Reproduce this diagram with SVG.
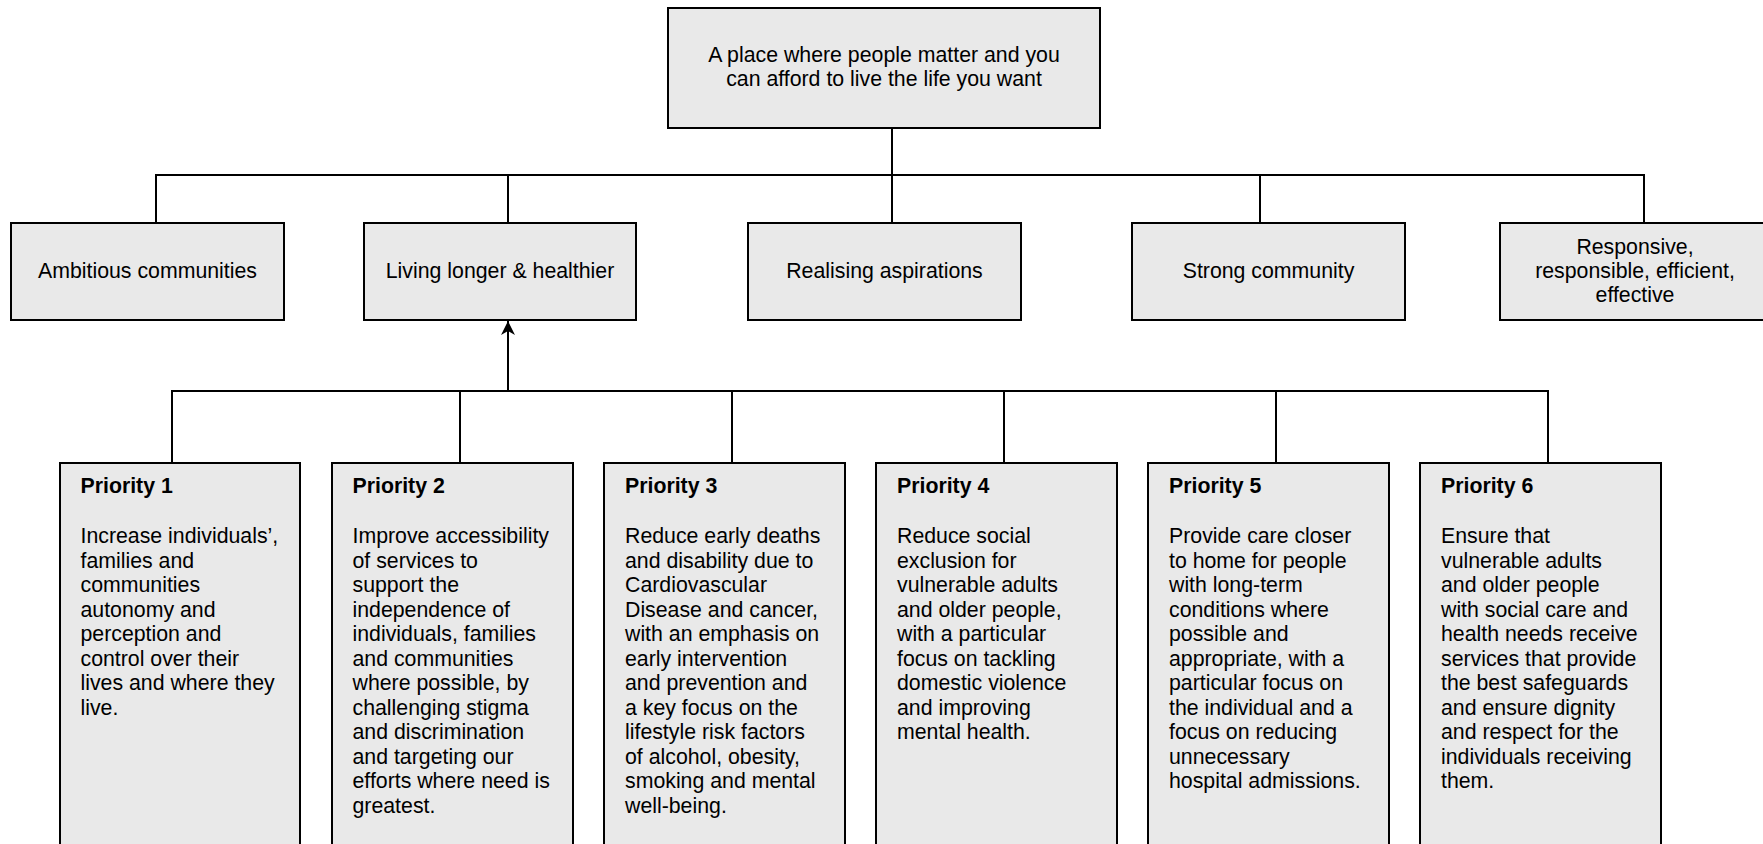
<svg xmlns="http://www.w3.org/2000/svg" width="1763" height="844" viewBox="0 0 1763 844">
<style>
.box{fill:#e9e9e9;stroke:#000;stroke-width:2}
.t{font-family:"Liberation Sans",Arial,sans-serif;font-size:21.3px;fill:#000}
.c{text-anchor:middle}
.b{font-weight:bold}
.ln{fill:none;stroke:#000;stroke-width:2}
</style>
<defs>
<marker id="arr" markerWidth="14" markerHeight="14" refX="14" refY="7" orient="auto" markerUnits="userSpaceOnUse">
<path d="M0,0 L14,7 L0,14 L4,7 Z" fill="#000"/>
</marker>
</defs>
<rect width="1763" height="844" fill="#fff"/>
<g id="connectors">
<line class="ln" x1="892" y1="128" x2="892" y2="223"/>
<polyline class="ln" points="156,223 156,175 1644,175 1644,223"/>
<line class="ln" x1="508" y1="175" x2="508" y2="223"/>
<line class="ln" x1="1260" y1="175" x2="1260" y2="223"/>
<polyline class="ln" points="172,463 172,391 1548,391 1548,463"/>
<line class="ln" x1="460" y1="391" x2="460" y2="463"/>
<line class="ln" x1="732" y1="391" x2="732" y2="463"/>
<line class="ln" x1="1004" y1="391" x2="1004" y2="463"/>
<line class="ln" x1="1276" y1="391" x2="1276" y2="463"/>
<line class="ln" x1="508" y1="391" x2="508" y2="321" marker-end="url(#arr)"/>
</g>
<g id="top">
<rect class="box" x="668" y="8" width="432" height="120"/>
<text class="t c" x="884" y="62">A place where people matter and you</text>
<text class="t c" x="884" y="86">can afford to live the life you want</text>
</g>
<g id="ambitious">
<rect class="box" x="11" y="223" width="273" height="97"/>
<text class="t c" x="147.5" y="278">Ambitious communities</text>
</g>
<g id="living">
<rect class="box" x="364" y="223" width="272" height="97"/>
<text class="t c" x="500" y="278">Living longer &amp; healthier</text>
</g>
<g id="realising">
<rect class="box" x="748" y="223" width="273" height="97"/>
<text class="t c" x="884.5" y="278">Realising aspirations</text>
</g>
<g id="strong">
<rect class="box" x="1132" y="223" width="273" height="97"/>
<text class="t c" x="1268.5" y="278">Strong community</text>
</g>
<g id="responsive">
<rect class="box" x="1500" y="223" width="272" height="97"/>
<text class="t c" x="1635" y="254">Responsive,</text>
<text class="t c" x="1635" y="278">responsible, efficient,</text>
<text class="t c" x="1635" y="302">effective</text>
</g>
<g id="p1">
<rect class="box" x="60" y="463" width="240" height="400"/>
<text class="t b" x="80.5" y="493">Priority 1</text>
<text class="t" x="80.5" y="543">Increase individuals’,</text>
<text class="t" x="80.5" y="567.5">families and</text>
<text class="t" x="80.5" y="592">communities</text>
<text class="t" x="80.5" y="616.5">autonomy and</text>
<text class="t" x="80.5" y="641">perception and</text>
<text class="t" x="80.5" y="665.5">control over their</text>
<text class="t" x="80.5" y="690">lives and where they</text>
<text class="t" x="80.5" y="714.5">live.</text>
</g>
<g id="p2">
<rect class="box" x="332" y="463" width="241" height="400"/>
<text class="t b" x="352.5" y="493">Priority 2</text>
<text class="t" x="352.5" y="543">Improve accessibility</text>
<text class="t" x="352.5" y="567.5">of services to</text>
<text class="t" x="352.5" y="592">support the</text>
<text class="t" x="352.5" y="616.5">independence of</text>
<text class="t" x="352.5" y="641">individuals, families</text>
<text class="t" x="352.5" y="665.5">and communities</text>
<text class="t" x="352.5" y="690">where possible, by</text>
<text class="t" x="352.5" y="714.5">challenging stigma</text>
<text class="t" x="352.5" y="739">and discrimination</text>
<text class="t" x="352.5" y="763.5">and targeting our</text>
<text class="t" x="352.5" y="788">efforts where need is</text>
<text class="t" x="352.5" y="812.5">greatest.</text>
</g>
<g id="p3">
<rect class="box" x="604" y="463" width="241" height="400"/>
<text class="t b" x="625" y="493">Priority 3</text>
<text class="t" x="625" y="543">Reduce early deaths</text>
<text class="t" x="625" y="567.5">and disability due to</text>
<text class="t" x="625" y="592">Cardiovascular</text>
<text class="t" x="625" y="616.5">Disease and cancer,</text>
<text class="t" x="625" y="641">with an emphasis on</text>
<text class="t" x="625" y="665.5">early intervention</text>
<text class="t" x="625" y="690">and prevention and</text>
<text class="t" x="625" y="714.5">a key focus on the</text>
<text class="t" x="625" y="739">lifestyle risk factors</text>
<text class="t" x="625" y="763.5">of alcohol, obesity,</text>
<text class="t" x="625" y="788">smoking and mental</text>
<text class="t" x="625" y="812.5">well-being.</text>
</g>
<g id="p4">
<rect class="box" x="876" y="463" width="241" height="400"/>
<text class="t b" x="897" y="493">Priority 4</text>
<text class="t" x="897" y="543">Reduce social</text>
<text class="t" x="897" y="567.5">exclusion for</text>
<text class="t" x="897" y="592">vulnerable adults</text>
<text class="t" x="897" y="616.5">and older people,</text>
<text class="t" x="897" y="641">with a particular</text>
<text class="t" x="897" y="665.5">focus on tackling</text>
<text class="t" x="897" y="690">domestic violence</text>
<text class="t" x="897" y="714.5">and improving</text>
<text class="t" x="897" y="739">mental health.</text>
</g>
<g id="p5">
<rect class="box" x="1148" y="463" width="241" height="400"/>
<text class="t b" x="1169" y="493">Priority 5</text>
<text class="t" x="1169" y="543">Provide care closer</text>
<text class="t" x="1169" y="567.5">to home for people</text>
<text class="t" x="1169" y="592">with long-term</text>
<text class="t" x="1169" y="616.5">conditions where</text>
<text class="t" x="1169" y="641">possible and</text>
<text class="t" x="1169" y="665.5">appropriate, with a</text>
<text class="t" x="1169" y="690">particular focus on</text>
<text class="t" x="1169" y="714.5">the individual and a</text>
<text class="t" x="1169" y="739">focus on reducing</text>
<text class="t" x="1169" y="763.5">unnecessary</text>
<text class="t" x="1169" y="788">hospital admissions.</text>
</g>
<g id="p6">
<rect class="box" x="1420" y="463" width="241" height="400"/>
<text class="t b" x="1441" y="493">Priority 6</text>
<text class="t" x="1441" y="543">Ensure that</text>
<text class="t" x="1441" y="567.5">vulnerable adults</text>
<text class="t" x="1441" y="592">and older people</text>
<text class="t" x="1441" y="616.5">with social care and</text>
<text class="t" x="1441" y="641">health needs receive</text>
<text class="t" x="1441" y="665.5">services that provide</text>
<text class="t" x="1441" y="690">the best safeguards</text>
<text class="t" x="1441" y="714.5">and ensure dignity</text>
<text class="t" x="1441" y="739">and respect for the</text>
<text class="t" x="1441" y="763.5">individuals receiving</text>
<text class="t" x="1441" y="788">them.</text>
</g>
</svg>
